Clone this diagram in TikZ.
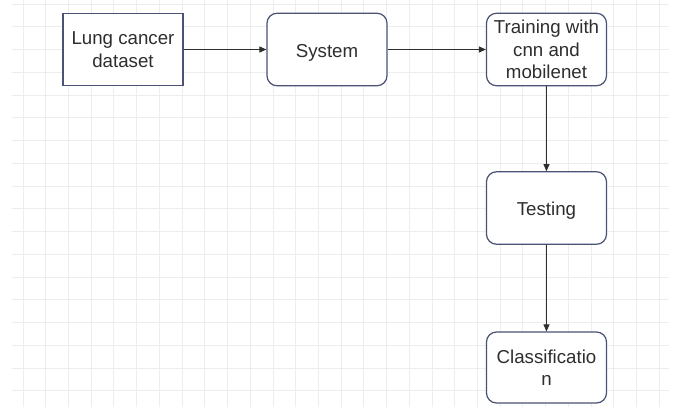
\documentclass[tikz,border=0pt]{standalone}
\usepackage{fontspec}
\setmainfont{Liberation Sans}
\usetikzlibrary{arrows.meta}
\definecolor{gridc}{HTML}{EDEDED}
\definecolor{boxc}{HTML}{4A5275}
\definecolor{txtc}{HTML}{2E2E2E}
\newcommand{\lowertext}[1]{\raisebox{-3pt}[\height][\depth]{#1}}
\begin{document}
\begin{tikzpicture}[x=1pt,y=-1pt,
  box/.style={draw=boxc,line width=1.2pt,fill=white,minimum width=120pt,minimum height=72.5pt,inner sep=0pt,
    text=txtc,align=center,font=\fontsize{18.7}{22.5}\selectfont},
  rbox/.style={box,rounded corners=10pt},
  arr/.style={draw=txtc,line width=1pt,-{Triangle[length=7pt,width=6pt]}}]
\useasboundingbox (0,0) rectangle (678,407);
\fill[white] (0,0) rectangle (678,407);
\foreach \i in {0,...,28} {\draw[gridc,line width=0.8pt] (23+22.72*\i,0) -- (23+22.72*\i,407);}
\foreach \j in {0,...,17} {\draw[gridc,line width=0.8pt] (12,4+22.75*\j) -- (669,4+22.75*\j);}
\node[box] (lung) at (123,49.5) {Lung cancer\\dataset};
\node[rbox] (sys) at (327,49.5) {\lowertext{System}};
\node[rbox] (train) at (546.5,49.5) {Training with\\cnn and\\mobilenet};
\node[rbox] (test) at (546.5,208) {\lowertext{Testing}};
\node[rbox,minimum height=71pt] (cls) at (546.5,367.5) {Classificatio\\n};
\draw[arr] (lung) -- (sys);
\draw[arr] (sys) -- (train);
\draw[arr] (train) -- (test);
\draw[arr] (test) -- (cls);
\end{tikzpicture}
\end{document}
